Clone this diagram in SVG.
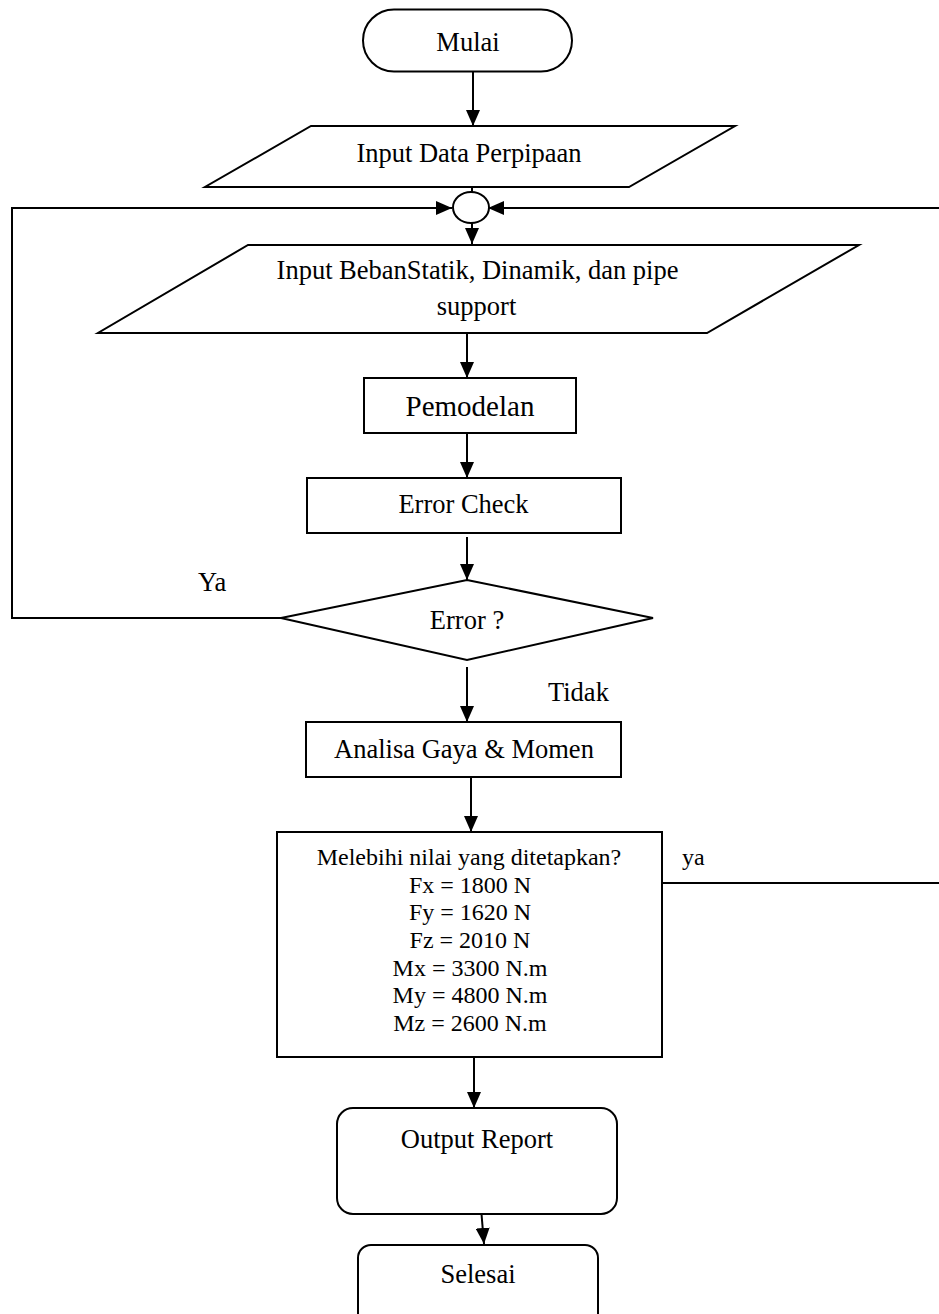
<svg xmlns="http://www.w3.org/2000/svg" width="939" height="1314" viewBox="0 0 939 1314">
<defs>
<marker id="arr" markerUnits="userSpaceOnUse" markerWidth="16" markerHeight="14" viewBox="0 0 16 14" refX="16" refY="7" orient="auto">
<path d="M0,0 L16,7 L0,14 z" fill="#000"/>
</marker>
</defs>
<style>
.s{fill:#fff;stroke:#000;stroke-width:2}
.c{fill:none;stroke:#000;stroke-width:2}
.a{marker-end:url(#arr)}
text{font-family:"Liberation Serif","Times New Roman",serif;font-size:26.5px;fill:#000;text-anchor:middle}
.sm{font-size:24px}
.lg{font-size:29px}
.l{text-anchor:start}
</style>
<rect width="939" height="1314" fill="#fff"/>
<g id="connectors">
<line class="c a" x1="473" y1="72" x2="473" y2="126"/>
<line class="c" x1="472" y1="187" x2="472" y2="192"/>
<polyline class="c a" points="281,618 12,618 12,208 452,208"/>
<line class="c a" x1="939" y1="208" x2="488" y2="208"/>
<line class="c a" x1="472" y1="223" x2="472" y2="244"/>
<line class="c a" x1="467" y1="333" x2="467" y2="378"/>
<line class="c a" x1="467" y1="433" x2="467" y2="478"/>
<line class="c a" x1="467" y1="537" x2="467" y2="580"/>
<line class="c a" x1="467" y1="667" x2="467" y2="722"/>
<line class="c a" x1="471" y1="777" x2="471" y2="832"/>
<line class="c" x1="662" y1="883" x2="939" y2="883"/>
<line class="c a" x1="474" y1="1057" x2="474" y2="1108"/>
<line class="c a" x1="481.5" y1="1214" x2="484" y2="1244"/>
<text class="l" x="198" y="591">Ya</text>
<text class="l" x="548" y="701">Tidak</text>
<text class="l sm" x="682" y="865">ya</text>
</g>
<g id="mulai">
<rect class="s" x="363" y="9.5" width="209" height="62" rx="31" ry="31"/>
<text x="468" y="51">Mulai</text>
</g>
<g id="input-data">
<polygon class="s" points="311,126 735,126 629,187 205,187"/>
<text x="469" y="162">Input Data Perpipaan</text>
</g>
<g id="junction">
<ellipse class="s" cx="471" cy="207.5" rx="18" ry="15.5"/>
</g>
<g id="input-beban">
<polygon class="s" points="248,245 859,245 707,333 98,333"/>
<text x="477.5" y="279">Input BebanStatik, Dinamik, dan pipe</text>
<text x="476.5" y="315">support</text>
</g>
<g id="pemodelan">
<rect class="s" x="364" y="378" width="212" height="55"/>
<text class="lg" x="470" y="416">Pemodelan</text>
</g>
<g id="error-check">
<rect class="s" x="307" y="478" width="314" height="55"/>
<text x="463.5" y="513">Error Check</text>
</g>
<g id="error-decision">
<polygon class="s" points="467,580 653,618 467,660 281,618"/>
<text x="467" y="629">Error ?</text>
</g>
<g id="analisa">
<rect class="s" x="306" y="722" width="315" height="55"/>
<text x="464" y="758">Analisa Gaya &amp; Momen</text>
</g>
<g id="cek-batas">
<rect class="s" x="277" y="832" width="385" height="225"/>
<text class="sm" x="469" y="865">Melebihi nilai yang ditetapkan?</text>
<text class="sm" x="470" y="892.5">Fx = 1800 N</text>
<text class="sm" x="470" y="920">Fy = 1620 N</text>
<text class="sm" x="470" y="947.5">Fz = 2010 N</text>
<text class="sm" x="470" y="975.5">Mx = 3300 N.m</text>
<text class="sm" x="470" y="1003">My = 4800 N.m</text>
<text class="sm" x="470" y="1030.5">Mz = 2600 N.m</text>
</g>
<g id="output-report">
<rect class="s" x="337" y="1108" width="280" height="106" rx="16" ry="16"/>
<text x="477" y="1148">Output Report</text>
</g>
<g id="selesai">
<rect class="s" x="358" y="1245" width="240" height="85" rx="13" ry="13"/>
<text x="478" y="1283">Selesai</text>
</g>
</svg>
